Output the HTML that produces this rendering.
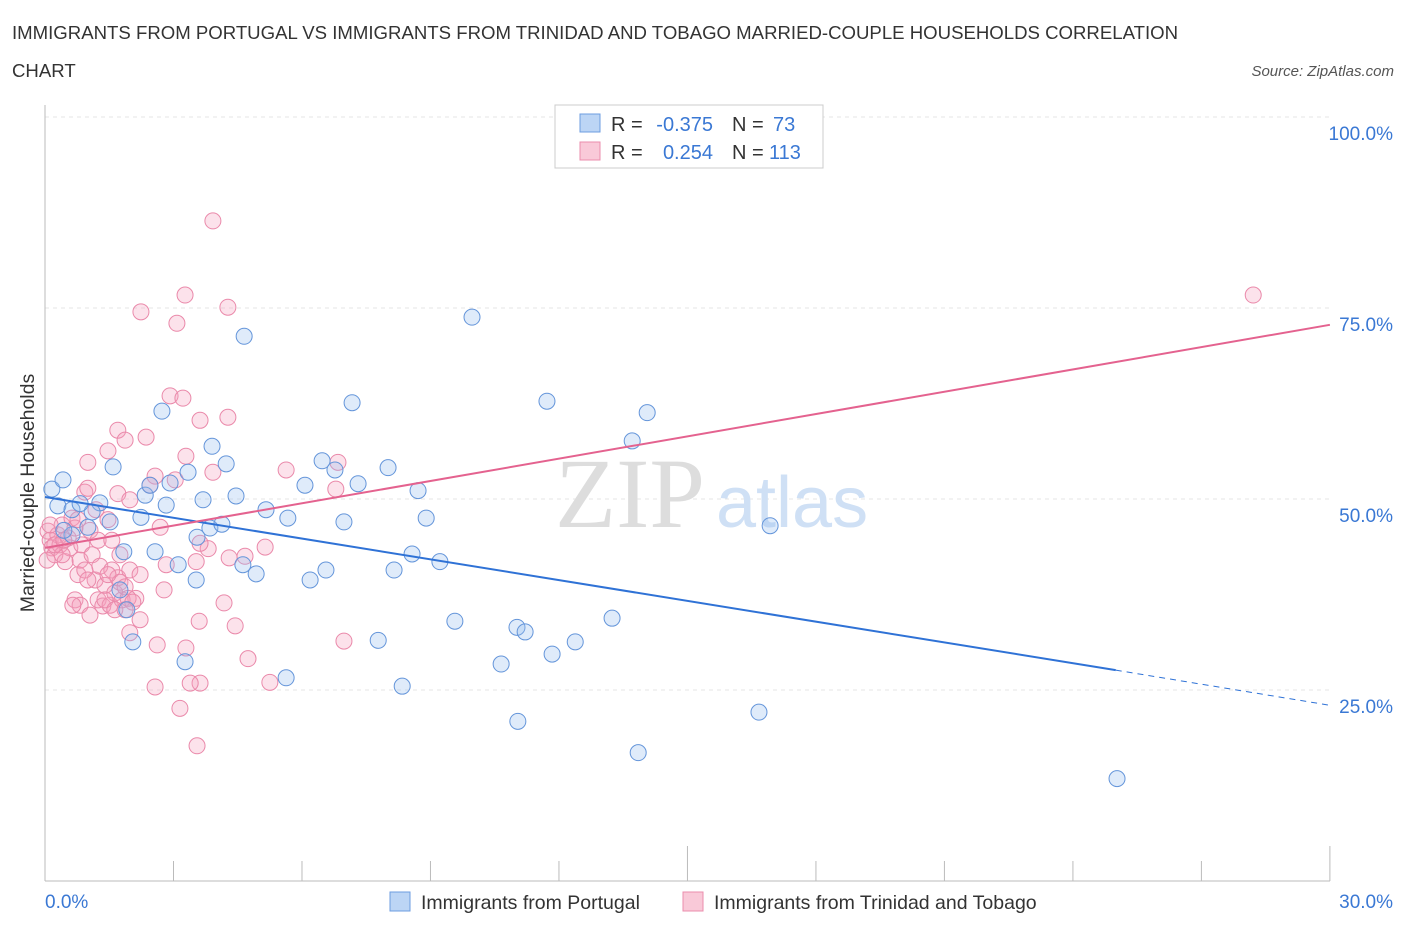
<!DOCTYPE html>
<html><head><meta charset="utf-8"><style>
body{margin:0;background:#fff;font-family:"Liberation Sans",sans-serif;}
</style></head><body>
<svg width="1406" height="930" style="display:block">
<text x="12" y="39" font-size="18.6" fill="#333">IMMIGRANTS FROM PORTUGAL VS IMMIGRANTS FROM TRINIDAD AND TOBAGO MARRIED-COUPLE HOUSEHOLDS CORRELATION</text>
<text x="12" y="77" font-size="18.6" fill="#333">CHART</text>
<text x="1394" y="76" font-size="15" fill="#555" font-style="italic" text-anchor="end">Source: ZipAtlas.com</text>
<g id="grid"></g>
<text x="555" y="527" font-size="100" fill="#ddd" font-family="Liberation Serif">ZIP</text>
<text x="716" y="527" font-size="72" fill="#cfe0f5">atlas</text>
<g id="axes"></g>
<g id="pts"></g>
<g id="trend"></g>
<text x="34" y="493" font-size="19.5" fill="#333" transform="rotate(-90 34 493)" text-anchor="middle">Married-couple Households</text>
<g>
<rect x="555" y="105" width="268" height="63" fill="#fff" stroke="#ccc"/>
<rect x="580" y="114" width="20" height="18" fill="#bcd5f5" stroke="#6d9de0"/>
<rect x="580" y="142" width="20" height="18" fill="#f9c9d8" stroke="#eb8dac"/>
<text x="611" y="131" font-size="20" fill="#333">R =</text>
<text x="713" y="131" font-size="20" fill="#3a78d4" text-anchor="end">-0.375</text>
<text x="732" y="131" font-size="20" fill="#333">N =</text>
<text x="773" y="131" font-size="20" fill="#3a78d4">73</text>
<text x="611" y="159" font-size="20" fill="#333">R =</text>
<text x="713" y="159" font-size="20" fill="#3a78d4" text-anchor="end">0.254</text>
<text x="732" y="159" font-size="20" fill="#333">N =</text>
<text x="769" y="159" font-size="20" fill="#3a78d4">113</text>
</g>
<g>
<rect x="390" y="892" width="20" height="19" fill="#bcd5f5" stroke="#6d9de0"/>
<text x="421" y="909" font-size="19.5" fill="#333">Immigrants from Portugal</text>
<rect x="683" y="892" width="20" height="19" fill="#f9c9d8" stroke="#eb8dac"/>
<text x="714" y="909" font-size="19.5" fill="#333">Immigrants from Trinidad and Tobago</text>
</g>
</svg>
<script>
const blueX=[0.16,0.42,0.30,0.63,1.00,1.28,1.10,1.52,1.59,1.84,1.91,2.05,2.24,2.34,2.45,2.57,2.73,2.83,2.92,3.11,3.27,3.34,3.53,3.55,3.69,3.90,3.85,4.13,4.23,4.46,4.65,4.62,4.93,5.16,5.63,5.67,6.07,6.19,6.47,6.56,6.77,6.98,7.17,7.31,7.78,8.01,8.15,8.34,8.57,8.71,8.90,9.22,9.57,9.97,10.65,11.02,11.04,11.21,11.72,11.84,12.38,13.24,13.71,13.85,14.06,16.67,16.93,25.03,0.63,0.82,0.44,1.75];
const blueY=[51.3,52.5,49.1,48.6,46.3,49.5,48.3,47.0,54.2,43.1,35.5,31.3,47.6,50.5,51.8,43.1,61.5,49.2,52.1,41.4,28.7,53.5,39.4,45.0,49.9,56.9,46.2,46.7,54.6,50.4,71.3,41.4,40.2,48.6,26.6,47.5,51.8,39.4,55.0,40.7,53.8,47.0,62.6,52.0,31.5,54.1,40.7,25.5,42.8,51.1,47.5,41.8,34.0,73.8,28.4,33.2,20.9,32.6,62.8,29.7,31.3,34.4,57.6,16.8,61.3,22.1,46.5,13.4,45.3,49.4,45.9,38.1];
const pinkX=[3.92,2.24,3.27,3.08,4.27,28.21,2.92,3.22,4.27,3.62,1.70,2.36,1.87,1.47,1.00,3.92,3.29,2.57,6.84,5.63,6.79,1.70,2.45,5.14,4.67,3.81,3.62,4.30,2.83,3.53,4.18,2.78,4.44,3.60,4.74,3.29,2.62,3.62,2.57,3.39,3.15,3.55,5.25,6.98,1.98,2.12,2.69,3.04,0.07,0.12,0.16,0.23,0.05,0.30,0.35,0.40,0.47,0.54,0.58,0.63,0.70,0.77,0.82,0.86,0.93,1.00,1.05,1.10,1.17,1.24,1.28,1.35,1.40,1.47,1.52,1.56,1.63,1.70,1.75,1.80,1.87,1.94,1.98,2.05,2.22,0.70,0.82,1.05,0.93,1.24,0.40,0.23,0.12,0.44,0.77,1.19,1.56,1.75,2.22,1.40,1.63,1.00,1.98,0.65,1.47,1.87];
const pinkY=[86.4,74.5,76.7,73.0,75.1,76.7,63.5,63.2,60.7,60.3,59.0,58.1,57.7,56.3,54.8,53.5,55.6,53.0,54.8,53.8,51.3,50.7,51.8,43.7,42.5,43.5,44.2,42.3,41.4,41.8,36.4,38.1,33.4,34.0,29.1,30.5,30.9,25.9,25.4,25.9,22.6,17.7,26.0,31.4,32.5,37.0,46.3,52.5,45.8,44.6,43.6,42.7,42.0,45.3,44.0,46.6,41.8,44.9,43.6,47.5,46.2,40.1,42.0,44.0,50.9,51.4,45.9,42.7,39.4,36.8,41.2,36.0,38.7,47.3,36.1,40.7,37.7,39.7,39.1,36.8,38.5,37.0,40.7,36.5,34.2,36.8,36.1,34.8,40.7,44.6,42.7,44.0,46.6,44.6,47.3,48.6,44.6,42.7,40.1,36.8,35.5,39.4,49.9,36.1,40.1,35.5];
const yTicks=[25,50,75,100];
const yTickLabels=["25.0%","50.0%","75.0%","100.0%"];
const blueTrend=[50.26,27.6,23.0];
const pinkTrend=[43.6,72.8];
const NS="http://www.w3.org/2000/svg";
const X=v=>45+v*42.83, Y=v=>881-v*7.64;
function mk(tag,attrs,parent){const e=document.createElementNS(NS,tag);for(const k in attrs)e.setAttribute(k,attrs[k]);parent.appendChild(e);return e;}
const grid=document.getElementById('grid'),axes=document.getElementById('axes'),pts=document.getElementById('pts'),tr=document.getElementById('trend');
yTicks.forEach((t,i)=>{
 const l=mk('line',{x1:45,x2:1330,y1:Y(t),y2:Y(t),stroke:'#e6e6e6','stroke-dasharray':'4,4'},grid);
 
 
 const tx=mk('text',{x:1393,y:Y(t)+23,'font-size':19,fill:'#3a78d4','text-anchor':'end'},axes);
 tx.textContent=yTickLabels[i];
 
 
});
mk('line',{x1:45,x2:45,y1:105,y2:881,stroke:'#bbb'},axes);
mk('line',{x1:45,x2:1330,y1:881,y2:881,stroke:'#bbb'},axes);
for(let i=0;i<=10;i++){const t=mk('line',{x1:X(i*3),x2:X(i*3),y1:881,y2:i==5||i==10?846:861,stroke:'#bbb'},axes);
 
 }
const xl=mk('text',{x:45,y:908,'font-size':19,fill:'#3a78d4'},axes);xl.textContent='0.0%';


const xr=mk('text',{x:1393,y:908,'font-size':19,fill:'#3a78d4','text-anchor':'end'},axes);xr.textContent='30.0%';


pinkX.forEach((x,i)=>{const c=mk('circle',{cx:X(x),cy:Y(pinkY[i]),r:8,fill:'rgba(244,160,190,0.3)',stroke:'#ea89aa','stroke-width':1},pts);
 
 });
blueX.forEach((x,i)=>{const c=mk('circle',{cx:X(x),cy:Y(blueY[i]),r:8,fill:'rgba(150,190,240,0.3)',stroke:'#6495da','stroke-width':1},pts);
 
 });
const bl=mk('line',{x1:X(0),y1:Y(blueTrend[0]),x2:X(25),y2:Y(blueTrend[1]),stroke:'#2f72d6','stroke-width':2},tr);


const bd=mk('line',{x1:X(25),y1:Y(blueTrend[1]),x2:X(30),y2:Y(blueTrend[2]),stroke:'#2f72d6','stroke-width':1,'stroke-dasharray':'6,5'},tr);


const pl=mk('line',{x1:X(0),y1:Y(pinkTrend[0]),x2:X(30),y2:Y(pinkTrend[1]),stroke:'#e4628f','stroke-width':2},tr);


</script>
</body></html>
